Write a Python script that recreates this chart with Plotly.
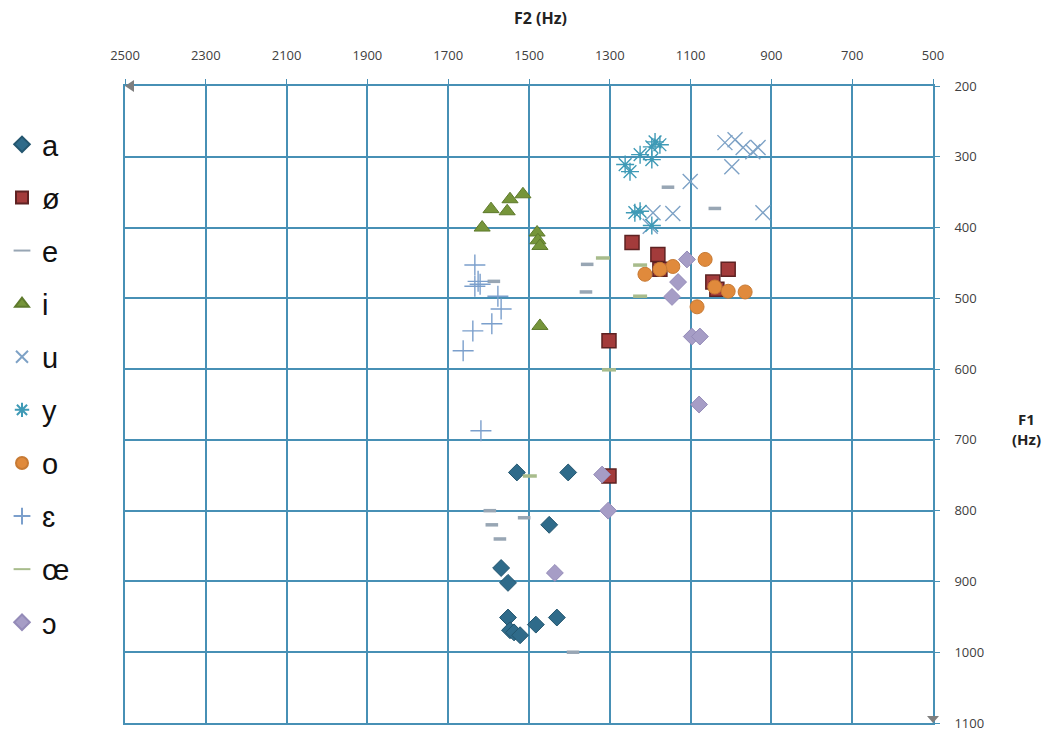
import plotly.graph_objects as go

# ---- data (F2 Hz, F1 Hz) ----
names = ["a", "ø", "e", "i", "u", "y", "o", "ɛ", "œ", "ɔ"]

a_f2 = [1530, 1403, 1450, 1569, 1552, 1552, 1547, 1537, 1522, 1483, 1431]
a_f1 = [746, 746, 820, 881, 902, 951, 969, 972, 976, 961, 951]

oe_f2 = [1245, 1181, 1176, 1007, 1045, 1035, 1302, 1302]
oe_f1 = [421, 438, 459, 459, 477, 487, 560, 751]

e_f2 = [1156, 1040, 1356, 1359, 1587, 1597, 1592, 1572, 1512, 1391]
e_f1 = [343, 373, 452, 491, 476, 800, 820, 840, 810, 1000]

i_f2 = [1515, 1547, 1594, 1554, 1616, 1480, 1478, 1473, 1473]
i_f1 = [353, 360, 374, 377, 400, 407, 418, 426, 539]

u_f2 = [1015, 990, 970, 946, 933, 998, 921, 1101, 1193, 1144, 1200]
u_f1 = [280, 276, 287, 293, 287, 314, 379, 335, 379, 380, 398]

y_f2 = [1188, 1176, 1196, 1225, 1196, 1262, 1250, 1238, 1225, 1196]
y_f1 = [279, 283, 286, 297, 304, 311, 321, 379, 377, 397]

o_f2 = [1064, 1144, 1176, 1213, 1040, 1007, 965, 1084]
o_f1 = [445, 455, 459, 466, 484, 490, 491, 512]

eps_f2 = [1634, 1626, 1634, 1621, 1577, 1569, 1592, 1639, 1663, 1619]
eps_f1 = [453, 476, 483, 480, 497, 515, 536, 546, 574, 687]

oelig_f2 = [1317, 1225, 1225, 1302, 1498]
oelig_f1 = [443, 453, 497, 601, 751]

open_o_f2 = [1109, 1131, 1146, 1097, 1077, 1079, 1304, 1319, 1436]
open_o_f1 = [445, 477, 498, 554, 554, 650, 800, 749, 888]

x_ticks = [2500, 2300, 2100, 1900, 1700, 1500, 1300, 1100, 900, 700, 500]
y_ticks = [200, 300, 400, 500, 600, 700, 800, 900, 1000, 1100]

series = [
    (names[0], a_f2, a_f1, dict(symbol="diamond", size=13, color="#2f6b8a",
                                line=dict(width=1, color="#24566f"))),
    (names[1], oe_f2, oe_f1, dict(symbol="square", size=14, color="#a33b3b",
                                  line=dict(width=1.5, color="#5e2222"))),
    (names[2], e_f2, e_f1, dict(symbol="line-ew", size=9, color="#98a6b4",
                                line=dict(width=3.5, color="#98a6b4"))),
    (names[3], i_f2, i_f1, dict(symbol="triangle-up", size=14, color="#76953a",
                                line=dict(width=1, color="#5e7a2c"))),
    (names[4], u_f2, u_f1, dict(symbol="x-thin-open", size=15, color="#7ea2c6",
                                line=dict(width=1.4, color="#6f95bd"))),
    (names[5], y_f2, y_f1, dict(symbol="asterisk-open", size=15, color="#3f9ab6",
                                line=dict(width=1.4, color="#3f9ab6"))),
    (names[6], o_f2, o_f1, dict(symbol="circle", size=14, color="#e08a3c",
                                line=dict(width=1, color="#c77a34"))),
    (names[7], eps_f2, eps_f1, dict(symbol="cross-thin-open", size=15, color="#7b9fcc",
                                    line=dict(width=1.4, color="#7b9fcc"))),
    (names[8], oelig_f2, oelig_f1, dict(symbol="line-ew", size=10, color="#a8bc8c",
                                        line=dict(width=3.5, color="#a8bc8c"))),
    (names[9], open_o_f2, open_o_f1, dict(symbol="diamond", size=13, color="#a69dc6",
                                          line=dict(width=1, color="#948bb8"))),
]

fig = go.Figure()
for i, (nm, xs, ys, mk) in enumerate(series):
    fig.add_trace(go.Scatter(x=xs, y=ys, mode="markers", name=nm, marker=mk,
                             legendgroup=f"g{i}"))

grid_c = "#4790b5"
tick_font = dict(family="Open Sans", size=13, color="#404040")

fig.update_layout(
    width=1051, height=733,
    margin=dict(l=117, r=126, t=78, b=18, autoexpand=False),
    paper_bgcolor="white", plot_bgcolor="white",
    showlegend=True,
    legend=dict(
        x=-123 / 808, xanchor="left", y=1 - (119 - 86) / 637, yanchor="top",
        font=dict(family="Liberation Sans", size=29, color="#111111"),
        tracegroupgap=12.4, itemsizing="constant", bgcolor="rgba(0,0,0,0)",
        itemwidth=30,
    ),
    xaxis=dict(
        range=[2500, 500], side="top", tickvals=x_ticks,
        showgrid=True, gridcolor=grid_c, gridwidth=1.6,
        showline=True, linecolor=grid_c, linewidth=1.6, mirror=True,
        ticks="outside", ticklen=5, tickcolor=grid_c,
        tickfont=tick_font, ticklabelstandoff=14, zeroline=False,
    ),
    yaxis=dict(
        range=[1100, 200], side="right", tickvals=y_ticks,
        showgrid=True, gridcolor=grid_c, gridwidth=1.6,
        showline=True, linecolor=grid_c, linewidth=1.6, mirror=True,
        ticks="outside", ticklen=5, tickcolor=grid_c,
        tickfont=tick_font, ticklabelstandoff=12, zeroline=False,
    ),
    annotations=[
        dict(text="<b>F2 (Hz)</b>", xref="paper", yref="paper",
             x=(540 - 125) / 808, y=1 + (86 - 18) / 637, showarrow=False,
             xanchor="center", yanchor="middle",
             font=dict(family="Open Sans", size=16, color="#222222")),
        dict(text="<b>F1<br>(Hz)</b>", xref="paper", yref="paper",
             x=1 + (1026 - 933) / 808, y=1 - (429 - 86) / 637, showarrow=False,
             xanchor="center", yanchor="middle",
             font=dict(family="Open Sans", size=15, color="#222222")),
    ],
    shapes=[
        dict(type="path", xref="paper", yref="paper", xsizemode="pixel",
             ysizemode="pixel", xanchor=0, yanchor=1,
             path="M 0 0 L 9 6 L 9 -6 Z", fillcolor="#7f7f7f", line=dict(width=0)),
        dict(type="path", xref="paper", yref="paper", xsizemode="pixel",
             ysizemode="pixel", xanchor=1, yanchor=0,
             path="M 0 0 L -6 7 L 6 7 Z", fillcolor="#7f7f7f", line=dict(width=0)),
    ],
)

fig.write_html("out.html")
